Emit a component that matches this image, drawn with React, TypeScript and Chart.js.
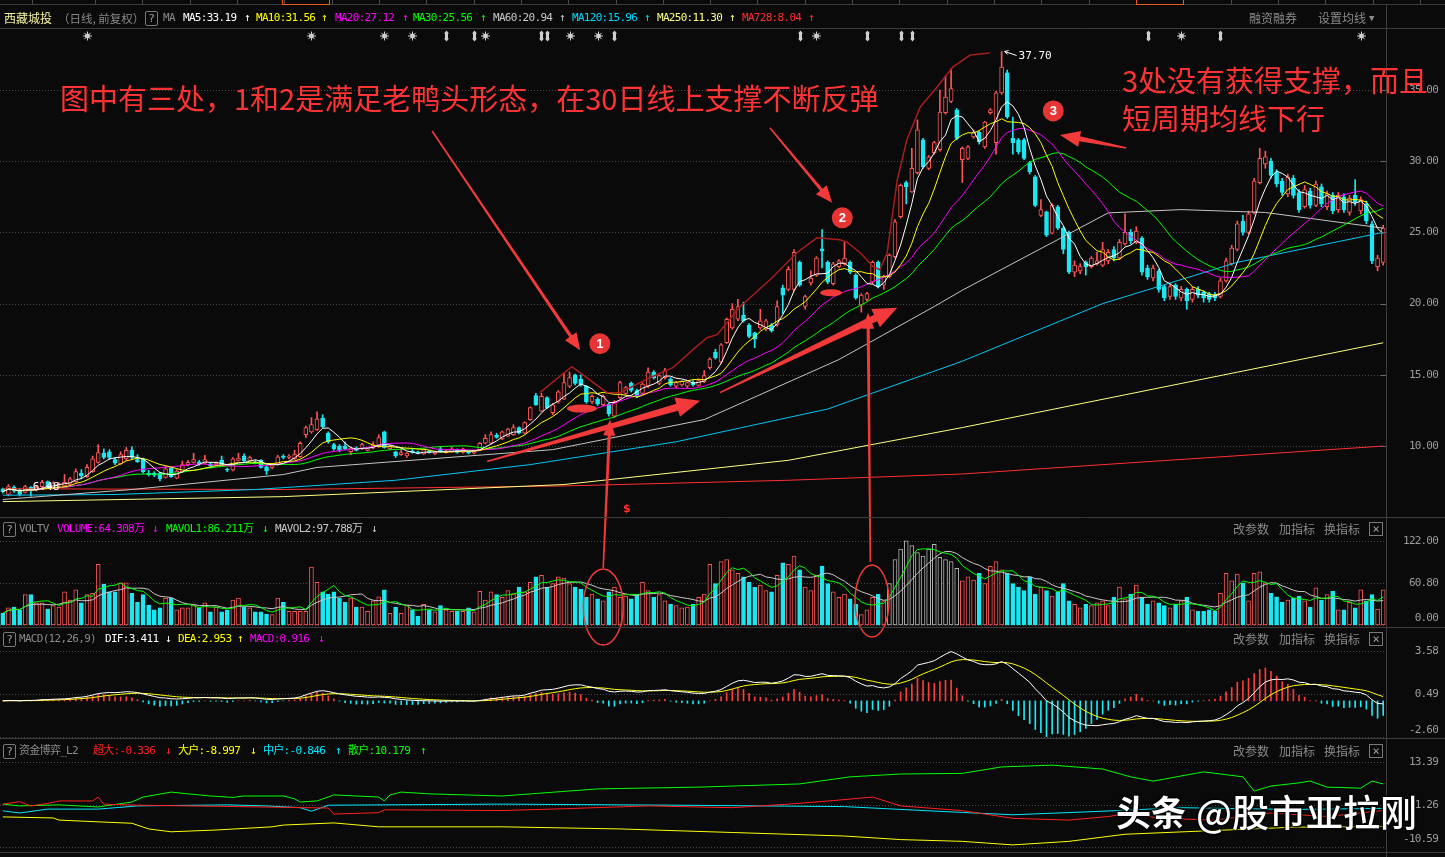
import React, { useEffect, useRef } from 'react';
import { Chart, registerables } from 'chart.js';

Chart.register(...registerables);

// ---------------- data ----------------
const opens = [
  7.00, 6.60, 7.10, 6.95, 6.75, 7.10, 6.90, 7.15, 7.50, 7.10,
  7.25, 7.20, 7.30, 7.50, 8.10, 7.85, 8.20, 8.85, 9.50, 9.60,
  9.05, 8.75, 9.10, 9.70, 9.05, 9.10, 8.10, 8.10, 8.10, 7.80,
  8.45, 7.75, 8.20, 8.70, 8.85, 8.90, 8.80, 8.75, 8.65, 9.00,
  8.35, 8.30, 9.00, 9.30, 9.00, 8.90, 9.00, 8.55, 8.50, 8.70,
  9.30, 9.20, 9.10, 9.25, 10.80, 11.00, 11.15, 11.95, 10.90, 10.10,
  10.00, 10.00, 9.60, 9.85, 9.80, 9.70, 9.85, 9.95, 11.00, 9.80,
  9.60, 9.40, 9.30, 9.65, 9.60, 9.45, 9.65, 9.45, 9.80, 9.55,
  9.60, 9.75, 9.55, 9.60, 9.50, 9.75, 10.20, 10.20, 10.75, 10.50,
  10.70, 10.80, 11.30, 10.90, 11.85, 13.55, 12.45, 13.40, 12.35, 13.10,
  13.30, 14.20, 15.00, 14.70, 14.20, 13.10, 13.30, 12.90, 12.95, 12.10,
  13.40, 13.70, 14.40, 13.90, 13.70, 14.20, 15.20, 14.40, 14.80, 14.70,
  14.20, 14.30, 14.20, 14.50, 14.25, 14.50, 15.50, 16.60, 15.90, 17.25,
  18.30, 18.90, 19.20, 18.50, 17.95, 18.30, 18.20, 18.50, 18.50, 21.10,
  21.00, 21.00, 22.90, 19.80, 21.45, 22.00, 23.85, 22.90, 21.40, 22.60,
  22.80, 22.90, 22.00, 19.90, 20.30, 21.50, 22.90, 21.30, 21.90, 23.30,
  26.10, 28.50, 27.85, 29.20, 31.50, 29.50, 30.60, 30.80, 33.40, 34.20,
  33.60, 30.10, 30.20, 31.70, 32.05, 31.00, 33.40, 31.30, 34.80, 36.20,
  31.60, 31.50, 31.50, 29.90, 28.90, 26.20, 26.45, 24.95, 26.80, 25.30,
  25.00, 22.20, 22.30, 22.90, 22.60, 22.80, 22.70, 23.00, 23.80, 23.20,
  24.20, 25.00, 24.30, 24.60, 22.50, 21.80, 22.30, 21.20, 20.50, 21.30,
  20.40, 21.00, 20.30, 21.00, 20.80, 20.70, 20.60, 20.50, 21.60, 22.80,
  23.80, 25.80, 25.00, 26.40, 28.50, 29.80, 30.00, 29.20, 28.60, 27.70,
  28.80, 27.80, 26.80, 27.90, 26.90, 28.20, 26.80, 27.60, 26.60, 27.50,
  26.40, 27.60, 26.50, 27.00, 25.60, 22.60, 22.90,
];
const closes = [
  6.80, 7.15, 6.85, 6.60, 7.15, 6.90, 7.10, 7.45, 7.15, 7.40,
  7.35, 7.45, 7.70, 8.20, 7.90, 8.50, 9.10, 9.55, 9.20, 9.20,
  8.80, 9.40, 9.70, 9.20, 8.90, 8.20, 8.00, 7.95, 7.70, 8.40,
  7.85, 8.25, 8.70, 8.85, 9.05, 8.75, 9.05, 8.60, 8.80, 8.70,
  8.30, 9.10, 9.15, 8.95, 9.20, 8.80, 8.50, 8.25, 8.70, 9.25,
  9.20, 9.30, 9.40, 10.20, 11.30, 11.50, 11.90, 11.35, 10.30, 9.80,
  9.75, 9.80, 9.85, 9.70, 10.10, 9.80, 10.10, 10.60, 9.90, 10.00,
  9.30, 9.55, 9.50, 9.55, 9.50, 9.75, 9.55, 9.60, 9.60, 9.65,
  9.80, 9.55, 9.80, 9.50, 9.65, 10.20, 10.55, 10.80, 10.60, 11.00,
  11.20, 11.30, 10.90, 11.65, 12.70, 12.90, 13.50, 12.70, 12.90, 13.80,
  14.45, 14.80, 14.40, 14.30, 13.10, 13.50, 12.95, 13.50, 12.25, 13.10,
  14.45, 14.10, 13.90, 13.50, 14.35, 15.20, 14.80, 14.95, 15.30, 14.30,
  14.45, 14.55, 14.45, 14.30, 14.60, 14.95, 16.10, 16.20, 17.10, 18.90,
  19.60, 19.80, 18.80, 17.70, 17.50, 18.80, 18.80, 18.10, 19.80, 20.60,
  22.40, 23.60, 21.30, 20.50, 21.80, 23.20, 23.70, 21.50, 22.80, 23.00,
  23.20, 22.20, 20.40, 20.60, 20.70, 22.90, 21.20, 21.90, 23.40, 25.75,
  28.30, 28.20, 29.50, 32.20, 29.60, 30.30, 31.30, 33.45, 34.50, 35.10,
  31.60, 30.90, 31.00, 32.05, 31.35, 32.75, 33.60, 34.80, 36.60, 33.10,
  31.30, 30.65, 30.20, 29.25, 26.90, 26.60, 24.80, 26.90, 25.30, 23.80,
  22.20, 22.70, 22.60, 22.60, 23.20, 23.00, 23.80, 23.60, 23.20, 24.30,
  25.00, 24.40, 25.10, 22.20, 21.90, 22.50, 21.00, 20.40, 21.20, 20.50,
  21.00, 20.20, 21.00, 20.60, 20.40, 20.30, 20.40, 21.60, 23.00, 23.90,
  25.60, 25.00, 26.30, 28.60, 30.20, 30.30, 29.00, 28.40, 27.80, 28.90,
  27.60, 26.60, 28.00, 26.90, 28.40, 27.00, 27.70, 26.50, 27.60, 26.60,
  27.40, 27.10, 27.30, 25.80, 23.00, 23.20, 25.30,
];
const highs = [
  7.05, 7.30, 7.20, 7.00, 7.25, 7.15, 7.20, 7.60, 7.55, 7.50,
  7.45, 8.00, 7.80, 8.40, 8.35, 8.70, 9.30, 10.10, 9.80, 9.75,
  9.20, 9.60, 9.90, 9.95, 9.40, 9.15, 8.30, 8.20, 8.15, 8.60,
  8.50, 8.35, 8.95, 9.00, 9.50, 9.00, 9.35, 8.85, 8.90, 9.30,
  8.45, 9.20, 9.50, 9.45, 9.30, 9.00, 9.05, 8.60, 8.75, 9.35,
  9.40, 9.40, 9.70, 10.30, 11.40, 12.00, 12.40, 12.20, 11.00, 10.20,
  10.10, 10.30, 9.95, 9.95, 10.20, 9.85, 10.30, 10.80, 11.05, 10.05,
  9.65, 9.90, 9.55, 9.80, 9.65, 9.80, 9.70, 9.65, 9.95, 9.70,
  9.95, 9.80, 9.85, 9.65, 9.70, 10.25, 10.80, 11.00, 10.90, 11.05,
  11.25, 11.50, 11.35, 11.70, 12.75, 13.70, 13.70, 13.45, 13.00, 13.90,
  15.10, 15.20, 15.05, 15.00, 14.25, 13.60, 13.40, 13.60, 13.00, 13.20,
  14.55, 14.20, 14.50, 14.00, 14.45, 15.50, 15.30, 15.00, 15.45, 14.80,
  14.55, 14.60, 14.50, 14.60, 14.70, 15.30, 16.20, 16.80, 17.20, 19.00,
  20.00, 20.30, 20.10, 18.60, 18.00, 19.60, 18.90, 18.60, 20.20, 21.30,
  22.60, 23.80, 23.00, 20.60, 22.30, 23.30, 25.20, 23.00, 22.90, 23.10,
  24.30, 23.00, 22.10, 20.70, 20.80, 23.00, 23.00, 22.00, 23.50, 25.90,
  28.40, 28.60, 30.90, 32.90, 31.60, 30.40, 31.40, 35.00, 36.00, 36.50,
  33.70, 31.00, 31.10, 32.20, 32.10, 32.80, 33.70, 34.90, 37.70, 36.40,
  33.10, 31.60, 31.60, 30.00, 29.00, 27.30, 26.50, 27.00, 26.90, 25.40,
  25.10, 23.00, 22.80, 23.00, 23.30, 23.60, 24.30, 23.80, 24.00, 24.50,
  26.30, 25.20, 25.40, 24.70, 22.70, 22.70, 22.40, 21.30, 21.40, 21.40,
  21.20, 21.10, 21.20, 21.20, 20.90, 20.80, 20.80, 21.80, 23.20, 24.10,
  25.80, 26.20, 26.50, 28.80, 30.90, 30.70, 30.20, 29.40, 28.80, 29.10,
  29.00, 28.00, 28.30, 28.10, 28.60, 28.40, 27.90, 27.80, 27.80, 27.70,
  27.60, 28.70, 27.50, 27.20, 25.80, 23.40, 25.50,
];
const lows = [
  6.70, 6.50, 6.75, 6.50, 6.70, 6.48, 6.85, 7.05, 7.05, 7.05,
  7.15, 7.15, 7.25, 7.45, 7.70, 7.80, 8.15, 8.80, 9.10, 9.05,
  8.70, 8.70, 9.00, 9.10, 8.85, 8.10, 7.90, 7.85, 7.55, 7.75,
  7.80, 7.70, 8.15, 8.60, 8.80, 8.65, 8.75, 8.50, 8.60, 8.65,
  8.20, 8.25, 8.95, 8.90, 8.95, 8.75, 8.45, 8.00, 8.40, 8.65,
  9.10, 9.10, 9.05, 9.20, 10.60, 10.90, 11.10, 11.30, 10.20, 9.70,
  9.60, 9.75, 9.40, 9.65, 9.75, 9.65, 9.80, 9.90, 9.85, 9.75,
  9.20, 9.35, 9.20, 9.50, 9.45, 9.40, 9.50, 9.40, 9.55, 9.50,
  9.55, 9.50, 9.50, 9.45, 9.45, 9.70, 10.15, 10.15, 10.55, 10.45,
  10.65, 10.75, 10.85, 10.85, 11.80, 12.85, 12.40, 12.60, 12.20, 13.00,
  13.25, 14.10, 14.30, 14.20, 13.00, 13.00, 12.85, 12.80, 12.10, 12.00,
  13.35, 13.60, 13.80, 13.40, 13.60, 14.10, 14.70, 14.30, 14.70, 14.20,
  14.10, 14.20, 14.10, 14.20, 14.20, 14.45, 15.40, 16.10, 15.80, 17.20,
  18.20, 18.80, 18.70, 17.60, 16.90, 18.20, 18.10, 18.00, 18.40, 19.30,
  20.90, 20.90, 21.20, 19.60, 21.30, 21.90, 22.50, 21.40, 21.30, 22.50,
  22.70, 22.10, 20.30, 19.40, 20.20, 21.40, 21.10, 21.00, 21.80, 23.20,
  26.00, 27.00, 27.80, 29.10, 29.50, 29.40, 30.50, 30.70, 33.30, 34.10,
  31.50, 28.50, 30.10, 31.60, 31.20, 30.90, 33.30, 30.50, 34.70, 33.00,
  30.50, 30.50, 30.10, 29.10, 26.80, 26.10, 24.70, 24.90, 25.20, 23.50,
  22.10, 21.90, 22.10, 22.00, 22.50, 22.70, 22.60, 22.80, 23.00, 23.10,
  24.10, 24.20, 24.20, 22.00, 21.70, 21.60, 20.80, 20.20, 20.30, 20.30,
  20.20, 19.60, 20.10, 20.40, 20.10, 20.10, 20.20, 20.40, 21.50, 22.70,
  23.70, 24.80, 24.90, 26.30, 28.40, 29.50, 28.80, 28.20, 27.60, 27.50,
  27.40, 26.40, 26.70, 26.70, 26.80, 26.80, 26.60, 26.30, 26.40, 26.40,
  26.20, 26.90, 26.30, 25.60, 22.80, 22.30, 22.70,
];
const volumes = [
  17, 25, 26, 22, 44, 44, 32, 32, 23, 28,
  26, 48, 36, 51, 32, 44, 46, 88, 59, 48,
  48, 61, 61, 46, 33, 44, 29, 22, 25, 39,
  39, 22, 25, 25, 29, 25, 32, 19, 26, 19,
  22, 36, 39, 26, 25, 19, 19, 16, 15, 39,
  33, 20, 20, 20, 20, 84, 62, 48, 45, 48,
  39, 33, 39, 26, 26, 20, 35, 41, 51, 17,
  26, 17, 29, 22, 13, 30, 22, 19, 28, 22,
  20, 20, 20, 25, 19, 49, 36, 48, 44, 40,
  50, 45, 55, 48, 62, 70, 72, 55, 60, 70,
  68, 60, 55, 52, 40, 45, 38, 35, 48, 55,
  40, 42, 38, 45, 62, 50, 40, 44, 35, 30,
  28, 25, 26, 30, 40, 45, 88, 60, 92, 95,
  80, 75, 70, 62, 55, 58, 50, 48, 72, 90,
  88, 100, 80, 55, 50, 72, 85, 60, 48, 40,
  45, 38, 30, 15, 22, 40, 45, 35, 60, 95,
  110, 122, 115, 105, 100, 110, 117, 98, 95, 92,
  82, 64, 70, 65, 75, 60, 85, 92, 80, 75,
  60, 55, 50, 70, 45, 55, 50, 42, 48, 60,
  35, 30, 25, 30, 28, 32, 35, 28, 40, 55,
  38, 45, 58, 40, 30, 35, 32, 28, 25, 30,
  35, 40, 22, 20, 20, 22, 20, 46, 75, 64,
  74, 61, 35, 75, 77, 61, 46, 41, 33, 36,
  39, 42, 35, 26, 54, 36, 44, 49, 22, 22,
  33, 25, 51, 35, 44, 23, 51,
];
const grayVolumeRange = [158, 170];

// long moving averages (need history before the window) read as key points
const ma60Points = [[0, 6.25], [23, 6.95], [50, 8.0], [56, 8.5], [98, 9.75], [125, 11.86], [149, 16.07], [166, 19.8], [171, 20.94], [197, 26.37], [210, 26.6], [225, 26.4], [246, 25.3]];
const ma120Points = [[0, 6.55], [20, 6.6], [45, 6.95], [70, 7.6], [94, 8.7], [120, 10.3], [147, 12.6], [171, 15.96], [196, 20.0], [220, 22.9], [246, 25.0]];
const ma250Points = [[0, 6.1], [50, 6.45], [100, 7.3], [140, 9.0], [171, 11.3], [200, 13.6], [246, 17.25]];
const ma728Points = [[0, 7.0], [50, 6.95], [100, 7.2], [140, 7.6], [171, 8.04], [200, 8.8], [246, 10.0]];

// 资金博弈 lines, key points
const fundSuperPoints = [[0, 1.5], [3, 2.2], [5, 1.0], [8, 1.7], [10, 2.4], [16, 2.4], [17, 3.5], [18, 1.5], [24, 1.2], [42, 0.8], [58, 0.4], [59, -1.3], [67, -0.9], [68, -0.1], [89, -0.3], [100, 0.2], [115, 1.0], [130, 0.5], [140, 1.5], [148, 2.5], [155, 3.5], [160, 1.0], [171, -0.34], [180, -2.5], [190, -3.0], [197, -2.0], [201, -1.0], [206, -2.5], [216, -3.0], [226, -1.0], [236, -2.0], [246, -0.3]];
const fundBigPoints = [[0, -2.1], [9, -2.4], [10, -3.0], [17, -3.5], [23, -3.9], [26, -5.5], [30, -6.3], [38, -5.8], [48, -4.9], [50, -4.4], [59, -3.8], [67, -4.9], [89, -4.9], [110, -5.5], [130, -6.5], [150, -7.5], [160, -8.5], [171, -9.0], [180, -10.0], [190, -9.0], [200, -7.0], [215, -6.0], [230, -5.0], [246, -4.8]];
const fundMidPoints = [[0, -0.4], [3, -1.0], [8, 0.1], [17, 0.1], [24, 1.0], [40, 1.3], [47, 1.0], [53, 0.5], [55, -0.5], [58, 1.2], [89, 1.5], [120, 1.2], [150, 0.8], [171, -0.85], [180, -1.5], [196, -0.5], [210, 0.5], [230, 0.0], [246, 0.3]];
const fundRetailPoints = [[0, 1.5], [3, 1.0], [10, 1.3], [17, 0.7], [23, 2.1], [25, 3.5], [30, 4.9], [33, 4.4], [37, 3.8], [41, 3.4], [43, 3.8], [50, 3.8], [52, 3.0], [53, 2.1], [56, 2.4], [59, 4.1], [67, 3.5], [68, 2.4], [69, 4.1], [71, 4.9], [76, 4.4], [89, 3.8], [106, 5.8], [124, 6.3], [142, 7.2], [151, 9.2], [160, 10.0], [171, 10.18], [178, 12.0], [187, 12.5], [196, 11.4], [201, 9.2], [205, 8.0], [214, 10.6], [221, 9.2], [223, 5.2], [226, 6.6], [231, 7.5], [233, 8.0], [236, 6.3], [242, 6.0], [244, 8.0], [246, 7.2]];

const priceTicks = [35, 30, 25, 20, 15, 10];
const volumeTicks = [122, 60.8, 0];
const macdTicks = [3.58, 0.49, -2.6];
const fundTicks = [13.39, 1.26, -10.59];

// event markers in the top strip (candle index, kind)
const markerIdx = [15, 55, 68, 73, 79, 84, 86, 96, 97, 101, 106, 109, 142, 145, 154, 160, 162, 204, 210, 217, 242];
const markerKind = ['s', 's', 's', 's', 'd', 'd', 's', 'd', 'd', 's', 's', 'd', 'd', 's', 'd', 'd', 'd', 'd', 's', 'd', 's'];

// hand-drawn annotations (in data coordinates)
const envelopeIdx = [95.7, 101.4, 107.7, 110.0, 115.3, 119.4, 123.0, 125.5, 127.3, 131.4, 137.3, 141.5, 145.1, 149.2, 150.4, 152.8, 155.1, 156.3, 157.6, 159.4, 161.1, 163.5, 166.5, 169.3, 172.4, 175.9];
const envelopeVal = [13.75, 15.58, 13.75, 13.75, 14.8, 15.5, 16.77, 17.61, 17.82, 19.78, 21.89, 23.57, 24.62, 24.48, 24.34, 23.57, 22.59, 22.38, 23.57, 28.69, 31.49, 33.81, 35.21, 36.61, 37.45, 37.59];

// ---------------- styling ----------------
const W = 1445;
const H = 857;
const BG = '#0a0a0a';
const RED = '#ff5555';
const CYAN = '#1ae8f2';
const GRAYBAR = '#b4b4b4';
const ANNO = '#f23a3a';
const mono = "'DejaVu Sans Mono', 'Noto Sans CJK SC', monospace";
const cjk = "'Noto Sans CJK SC', sans-serif";

function sma(src: number[], n: number) {
  return src.map((_, i) => {
    const s = Math.max(0, i - n + 1);
    let t = 0;
    for (let k = s; k <= i; k++) t += src[k];
    return t / (i - s + 1);
  });
}
function ema(src: number[], n: number) {
  const a = 2 / (n + 1);
  const out: number[] = [];
  let prev = src[0];
  src.forEach((v, i) => {
    prev = i === 0 ? v : a * v + (1 - a) * prev;
    out.push(prev);
  });
  return out;
}
function sparse(n: number, pts: number[][]) {
  const arr: (number | null)[] = new Array(n).fill(null);
  pts.forEach(([i, v]) => { arr[i] = v; });
  return arr;
}

function drawArrow(ctx: any, x1: number, y1: number, x2: number, y2: number, t0: number, t1: number, head: number, hw: number) {
  const a = Math.atan2(y2 - y1, x2 - x1);
  const c = Math.cos(a), s = Math.sin(a);
  const bx = x2 - c * head, by = y2 - s * head;
  ctx.fillStyle = ANNO;
  ctx.beginPath();
  ctx.moveTo(x1 - s * t0, y1 + c * t0);
  ctx.lineTo(bx - s * t1, by + c * t1);
  ctx.lineTo(bx - s * hw, by + c * hw);
  ctx.lineTo(x2, y2);
  ctx.lineTo(bx + s * hw, by - c * hw);
  ctx.lineTo(bx + s * t1, by - c * t1);
  ctx.lineTo(x1 + s * t0, y1 - c * t0);
  ctx.closePath();
  ctx.fill();
}

const overlay = {
  id: 'overlay',
  beforeDatasetsDraw(chart: any) {
    const { ctx, chartArea: ca, scales } = chart;
    ctx.save();
    ctx.strokeStyle = '#4a4a4a';
    ctx.lineWidth = 1;
    ctx.setLineDash([1, 2]);
    const grid = (id: string, vals: number[]) => vals.forEach((v) => {
      const y = Math.round(scales[id].getPixelForValue(v)) + 0.5;
      ctx.beginPath(); ctx.moveTo(ca.left, y); ctx.lineTo(ca.right, y); ctx.stroke();
    });
    grid('yP', priceTicks); grid('yV', volumeTicks); grid('yM', macdTicks); grid('yF', fundTicks);
    ctx.setLineDash([]);
    ctx.restore();
  },
  afterDatasetsDraw(chart: any) {
    const { ctx, chartArea: ca, scales } = chart;
    const X = (i: number) => scales.x.getPixelForValue(i);
    const Y = (id: string, v: number) => scales[id].getPixelForValue(v);
    ctx.save();

    // hand-drawn upper envelope
    ctx.strokeStyle = '#a81d1d';
    ctx.lineWidth = 1.5;
    ctx.beginPath();
    envelopeIdx.forEach((i, k) => {
      const x = X(i), y = Y('yP', envelopeVal[k]);
      if (k === 0) ctx.moveTo(x, y); else ctx.lineTo(x, y);
    });
    ctx.stroke();

    // arrows
    drawArrow(ctx, X(76.5), Y('yP', 32.12), X(102.9), Y('yP', 16.72), 0.8, 1.6, 17, 7);
    drawArrow(ctx, X(136.7), Y('yP', 32.34), X(147.8), Y('yP', 27.08), 0.8, 1.6, 17, 7);
    drawArrow(ctx, X(200.2), Y('yP', 30.93), X(188.4), Y('yP', 31.84), 0.8, 2.5, 20, 8);
    drawArrow(ctx, X(86.3), Y('yP', 8.91), X(124.3), Y('yP', 13.19), 0.8, 3.6, 24, 10);
    drawArrow(ctx, X(127.8), Y('yP', 13.75), X(159.4), Y('yP', 19.71), 0.8, 3.6, 24, 10);
    drawArrow(ctx, X(107.0), Y('yV', 82.7), X(108.2), Y('yP', 11.86), 0.8, 1.6, 16, 6);
    drawArrow(ctx, X(154.6), Y('yV', 91.4), X(154.2), Y('yP', 19.36), 0.8, 1.6, 16, 6);

    // filled ellipses marking the "duck head" dips
    ctx.fillStyle = ANNO;
    ctx.beginPath(); ctx.ellipse(X(103.2), Y('yP', 12.63), 15, 4, 0, 0, Math.PI * 2); ctx.fill();
    ctx.beginPath(); ctx.ellipse(X(147.6), Y('yP', 20.76), 11, 3.5, 0, 0, Math.PI * 2); ctx.fill();

    // outline ellipses on the volume panel
    ctx.strokeStyle = ANNO;
    ctx.lineWidth = 1.5;
    ctx.beginPath(); ctx.ellipse(X(107.0), Y('yV', 26.1), 20, 38, 0, 0, Math.PI * 2); ctx.stroke();
    ctx.beginPath(); ctx.ellipse(X(154.9), Y('yV', 34.8), 17, 36, 0, 0, Math.PI * 2); ctx.stroke();

    // numbered circles
    const circ = (i: number, v: number, t: string) => {
      const x = X(i), y = Y('yP', v);
      ctx.fillStyle = '#e53535';
      ctx.beginPath(); ctx.arc(x, y, 10.5, 0, Math.PI * 2); ctx.fill();
      ctx.fillStyle = '#ffffff';
      ctx.font = "bold 13px 'Liberation Sans', Arial, sans-serif";
      ctx.textAlign = 'center'; ctx.textBaseline = 'middle';
      ctx.fillText(t, x, y + 0.5);
    };
    circ(106.4, 17.19, '1'); circ(149.6, 26.02, '2'); circ(187.2, 33.53, '3');

    // top event markers
    const my = ca.top + 8;
    ctx.fillStyle = '#cfcfcf'; ctx.strokeStyle = '#cfcfcf'; ctx.lineWidth = 1;
    markerIdx.forEach((i, k) => {
      const x = Math.round(X(i)) + 0.5;
      if (markerKind[k] === 's') {
        for (let q = 0; q < 4; q++) {
          const a = (q * Math.PI) / 4;
          ctx.beginPath();
          ctx.moveTo(x - Math.cos(a) * 4.5, my - Math.sin(a) * 4.5);
          ctx.lineTo(x + Math.cos(a) * 4.5, my + Math.sin(a) * 4.5);
          ctx.stroke();
        }
        ctx.beginPath(); ctx.arc(x, my, 2.4, 0, Math.PI * 2); ctx.fill();
      } else {
        ctx.beginPath();
        ctx.moveTo(x, my - 5.5); ctx.lineTo(x + 2.5, my - 2.5); ctx.lineTo(x + 1.5, my - 2.5);
        ctx.lineTo(x + 1.5, my + 2.5); ctx.lineTo(x + 2.5, my + 2.5); ctx.lineTo(x, my + 5.5);
        ctx.lineTo(x - 2.5, my + 2.5); ctx.lineTo(x - 1.5, my + 2.5); ctx.lineTo(x - 1.5, my - 2.5);
        ctx.lineTo(x - 2.5, my - 2.5); ctx.closePath(); ctx.fill();
      }
    });

    // low / high labels
    ctx.font = "11px 'DejaVu Sans Mono', monospace";
    ctx.textBaseline = 'middle';
    ctx.textAlign = 'left';
    ctx.fillStyle = '#ffffff';
    let lowI = 0, highI = 0;
    lows.forEach((v, i) => { if (v < lows[lowI]) lowI = i; });
    highs.forEach((v, i) => { if (v > highs[highI]) highI = i; });
    ctx.fillText(lows[lowI].toFixed(2), X(lowI) + 2, Y('yP', lows[lowI]) - 9);
    const hx = X(highI), hy = Y('yP', highs[highI]);
    ctx.strokeStyle = '#ffffff';
    ctx.beginPath(); ctx.moveTo(hx + 3, hy); ctx.lineTo(hx + 15, hy + 4); ctx.stroke();
    ctx.beginPath(); ctx.moveTo(hx + 3, hy); ctx.lineTo(hx + 7, hy - 1); ctx.moveTo(hx + 3, hy); ctx.lineTo(hx + 6, hy + 3); ctx.stroke();
    ctx.fillText(highs[highI].toFixed(2), hx + 17, hy + 5);

    // "$" marker
    ctx.fillStyle = '#ff3030';
    ctx.font = "bold 11px 'DejaVu Sans', sans-serif";
    ctx.textAlign = 'center';
    ctx.fillText('$', X(111.2), Y('yP', 5.55));
    ctx.restore();
  },
  afterDraw(chart: any) {
    const { ctx, chartArea: ca, scales } = chart;
    ctx.save();
    // separators
    ctx.strokeStyle = '#3c3c3c';
    ctx.lineWidth = 1;
    const hl = (y: number) => { ctx.beginPath(); ctx.moveTo(0, y); ctx.lineTo(W, y); ctx.stroke(); };
    hl(Math.round(ca.top) + 0.5);
    hl(Math.round(scales.yP.bottom) + 0.5);
    hl(Math.round(scales.yV.bottom) + 0.5);
    hl(Math.round(scales.yM.bottom) + 0.5);
    hl(Math.round(scales.yF.bottom) + 2.5);
    ctx.beginPath(); ctx.moveTo(Math.round(ca.right) + 0.5, 5); ctx.lineTo(Math.round(ca.right) + 0.5, H); ctx.stroke();

    // right axis labels
    ctx.fillStyle = '#9c9c9c';
    ctx.font = "11px 'DejaVu Sans Mono', monospace";
    try { ctx.letterSpacing = '-0.8px'; } catch (e) { /* ignore */ }
    ctx.textAlign = 'right';
    ctx.textBaseline = 'middle';
    const lab = (id: string, vals: number[], shift: number) => vals.forEach((v, k) => {
      let y = scales[id].getPixelForValue(v);
      if (k === vals.length - 1) y -= shift;
      ctx.fillText(v.toFixed(2), 1438, y);
    });
    lab('yP', priceTicks, 0); lab('yV', volumeTicks, 7); lab('yM', macdTicks, 7); lab('yF', fundTicks, 8);
    ctx.strokeStyle = '#6a6a6a';
    priceTicks.forEach((v) => {
      const y = Math.round(scales.yP.getPixelForValue(v)) + 0.5;
      ctx.beginPath(); ctx.moveTo(ca.right - 5, y); ctx.lineTo(ca.right, y); ctx.stroke();
    });
    ctx.restore();
  },
};

function T(props: any) {
  const { x, y, c, s = 11, f = mono, ls = -0.7, w = 400, children } = props;
  return (
    <div style={{ position: 'absolute', left: x, top: y - 8, height: 16, lineHeight: '16px', fontSize: s, fontFamily: f, color: c, letterSpacing: ls, fontWeight: w, whiteSpace: 'nowrap' }}>
      {children}
    </div>
  );
}
function QBox(props: any) {
  const { x, y } = props;
  return (
    <div style={{ position: 'absolute', left: x, top: y - 7, width: 11, height: 13, border: '1px solid #7a7a7a', borderRadius: 2, color: '#a0a0a0', fontSize: 11, lineHeight: '13px', textAlign: 'center', fontFamily: mono }}>?</div>
  );
}
function XBox(props: any) {
  const { x, y } = props;
  return (
    <div style={{ position: 'absolute', left: x, top: y - 7, width: 12, height: 12, border: '1px solid #7a7a7a', color: '#a0a0a0', fontSize: 12, lineHeight: '12px', textAlign: 'center', fontFamily: mono }}>×</div>
  );
}

const titleItems = [
  { x: 183, t: 'MA5:33.19', c: '#ffffff' }, { x: 244, t: '↑', c: '#ffffff' },
  { x: 256, t: 'MA10:31.56', c: '#ffff00' }, { x: 321, t: '↑', c: '#ffff00' },
  { x: 335, t: 'MA20:27.12', c: '#ff00ff' }, { x: 402, t: '↑', c: '#ff00ff' },
  { x: 413, t: 'MA30:25.56', c: '#00ff00' }, { x: 480, t: '↑', c: '#00ff00' },
  { x: 493, t: 'MA60:20.94', c: '#c8c8c8' }, { x: 559, t: '↑', c: '#c8c8c8' },
  { x: 572, t: 'MA120:15.96', c: '#00d8ff' }, { x: 644, t: '↑', c: '#00d8ff' },
  { x: 657, t: 'MA250:11.30', c: '#ffff80' }, { x: 729, t: '↑', c: '#ffff80' },
  { x: 742, t: 'MA728:8.04', c: '#ff3030' }, { x: 808, t: '↑', c: '#ff3030' },
];
const volItems = [
  { x: 19, t: 'VOLTV', c: '#8a8a8a' },
  { x: 57, t: 'VOLUME:64.308万', c: '#ff00ff' }, { x: 152, t: '↓', c: '#ff00ff' },
  { x: 166, t: 'MAVOL1:86.211万', c: '#00ff00' }, { x: 262, t: '↓', c: '#00ff00' },
  { x: 275, t: 'MAVOL2:97.788万', c: '#c8c8c8' }, { x: 371, t: '↓', c: '#c8c8c8' },
];
const macdItems = [
  { x: 19, t: 'MACD(12,26,9)', c: '#8a8a8a' },
  { x: 105, t: 'DIF:3.411', c: '#ffffff' }, { x: 165, t: '↓', c: '#ffffff' },
  { x: 178, t: 'DEA:2.953', c: '#ffff00' }, { x: 237, t: '↑', c: '#ffff00' },
  { x: 250, t: 'MACD:0.916', c: '#ff00ff' }, { x: 318, t: '↓', c: '#ff00ff' },
];
const fundItems = [
  { x: 19, t: '资金博弈_L2', c: '#8a8a8a' },
  { x: 93, t: '超大:-0.336', c: '#ff2020' }, { x: 165, t: '↓', c: '#ff2020' },
  { x: 178, t: '大户:-8.997', c: '#ffff00' }, { x: 250, t: '↓', c: '#ffff00' },
  { x: 263, t: '中户:-0.846', c: '#00e8ff' }, { x: 335, t: '↑', c: '#00e8ff' },
  { x: 348, t: '散户:10.179', c: '#00ff00' }, { x: 420, t: '↑', c: '#00ff00' },
];

export default function App() {
  const ref = useRef<HTMLCanvasElement>(null);

  useEffect(() => {
    const N = closes.length;
    const labels = closes.map((_, i) => i);
    const up = closes.map((c, i) => c >= opens[i]);
    const isGray = (i: number) => i >= grayVolumeRange[0] && i <= grayVolumeRange[1];

    const ma5 = sma(closes, 5), ma10 = sma(closes, 10), ma20 = sma(closes, 20), ma30 = sma(closes, 30);
    const mavol1 = sma(volumes, 5), mavol2 = sma(volumes, 10);
    const e12 = ema(closes, 12), e26 = ema(closes, 26);
    const dif = e12.map((v, i) => v - e26[i]);
    const dea = ema(dif, 9);
    const hist = dif.map((v, i) => 2 * (v - dea[i]));

    const line = (label: string, data: any[], color: string, axis: string, span = false) => ({
      type: 'line', label, data, yAxisID: axis, borderColor: color, borderWidth: 1, pointRadius: 0,
      tension: 0, spanGaps: span, order: 0,
    });

    const datasets: any[] = [
      line('MA5', ma5, '#ffffff', 'yP'),
      line('MA10', ma10, '#ffff00', 'yP'),
      line('MA20', ma20, '#ff00ff', 'yP'),
      line('MA30', ma30, '#00ff00', 'yP'),
      line('MA60', sparse(N, ma60Points), '#c4c4c4', 'yP', true),
      line('MA120', sparse(N, ma120Points), '#00c8f5', 'yP', true),
      line('MA250', sparse(N, ma250Points), '#ffff80', 'yP', true),
      line('MA728', sparse(N, ma728Points), '#ff3030', 'yP', true),
      {
        type: 'bar', label: 'body', data: opens.map((o, i) => [o, closes[i]]), yAxisID: 'yP',
        backgroundColor: up.map((u) => (u ? BG : CYAN)), borderColor: up.map((u) => (u ? RED : CYAN)),
        borderWidth: 1, borderSkipped: false, barThickness: 4, grouped: false, minBarLength: 1, order: 1,
      },
      {
        type: 'bar', label: 'wick', data: lows.map((l, i) => [l, highs[i]]), yAxisID: 'yP',
        backgroundColor: up.map((u) => (u ? RED : CYAN)), borderWidth: 0, barThickness: 1, grouped: false, order: 2,
      },
      {
        type: 'bar', label: 'volume', data: volumes, yAxisID: 'yV',
        backgroundColor: volumes.map((_, i) => (isGray(i) ? BG : up[i] ? BG : CYAN)),
        borderColor: volumes.map((_, i) => (isGray(i) ? GRAYBAR : up[i] ? RED : CYAN)),
        borderWidth: 1, borderSkipped: false, barThickness: 4, grouped: false, order: 1,
      },
      line('MAVOL1', mavol1, '#00ff00', 'yV'),
      line('MAVOL2', mavol2, '#c8c8c8', 'yV'),
      {
        type: 'bar', label: 'MACD', data: hist, yAxisID: 'yM',
        backgroundColor: hist.map((v) => (v >= 0 ? '#ff3b3b' : CYAN)), borderWidth: 0, barThickness: 1, grouped: false, order: 1,
      },
      line('DIF', dif, '#ffffff', 'yM'),
      line('DEA', dea, '#ffff00', 'yM'),
      line('超大', sparse(N, fundSuperPoints), '#ff2020', 'yF', true),
      line('大户', sparse(N, fundBigPoints), '#ffff00', 'yF', true),
      line('中户', sparse(N, fundMidPoints), '#00e8ff', 'yF', true),
      line('散户', sparse(N, fundRetailPoints), '#00ff00', 'yF', true),
    ];

    const hiddenAxis = (min: number, max: number, weight: number) => ({
      type: 'linear', position: 'right', stack: 'panels', stackWeight: weight, min, max, display: true,
      ticks: { display: false }, grid: { display: false, drawTicks: false }, border: { display: false },
    });

    const chart = new Chart(ref.current as HTMLCanvasElement, {
      type: 'bar',
      data: { labels, datasets },
      options: {
        responsive: false,
        animation: false,
        devicePixelRatio: 1,
        events: [],
        layout: { padding: { left: 0, right: 59, top: 28, bottom: 7 } },
        plugins: { legend: { display: false }, tooltip: { enabled: false } },
        scales: {
          x: { type: 'category', offset: true, display: false, grid: { display: false } },
          yP: hiddenAxis(5.02, 39.35, 489),
          yV: hiddenAxis(-2.9, 156.6, 110),
          yM: hiddenAxis(-2.67, 5.31, 111),
          yF: hiddenAxis(-11.44, 20.16, 112),
        },
      } as any,
      plugins: [overlay as any],
    } as any);
    return () => chart.destroy();
  }, []);

  const tabLines: number[] = [32];
  for (let k = 0; k <= 28; k++) tabLines.push(95 + k * 47.32);

  return (
    <div style={{ position: 'fixed', left: 0, top: 0, width: W, height: H, background: BG, overflow: 'hidden' }}>
      <canvas ref={ref} width={W} height={H} style={{ position: 'absolute', left: 0, top: 0, width: W, height: H }} />

      {/* top tab strip */}
      <div style={{ position: 'absolute', left: 0, top: 4, width: W, height: 1, background: '#3a3a3a' }} />
      {tabLines.map((x, k) => (
        <div key={'tl' + k} style={{ position: 'absolute', left: Math.round(x), top: 0, width: 1, height: 5, background: '#4a4a4a' }} />
      ))}
      <div style={{ position: 'absolute', left: 282, top: -1, width: 46, height: 4, border: '1px solid #e8600e' }} />
      <div style={{ position: 'absolute', left: 1136, top: -1, width: 46, height: 4, border: '1px solid #e8600e' }} />

      {/* title row */}
      <T x={4} y={18} c="#f5f5a0" s={12} f={cjk} ls={0}>西藏城投</T>
      <T x={58} y={18} c="#8a8a8a" s={11.5} f={cjk} ls={0}>（日线, 前复权）</T>
      <QBox x={145} y={18} />
      <T x={163} y={18} c="#8a8a8a">MA</T>
      {titleItems.map((it, k) => <T key={'ti' + k} x={it.x} y={18} c={it.c}>{it.t}</T>)}
      <T x={1249} y={18} c="#8a8a8a" s={12} f={cjk} ls={0}>融资融券</T>
      <T x={1318} y={18} c="#8a8a8a" s={12} f={cjk} ls={0}>设置均线</T>
      <T x={1369} y={18} c="#8a8a8a" s={9} ls={0}>▼</T>

      {/* volume header */}
      <QBox x={3} y={529} />
      {volItems.map((it, k) => <T key={'vi' + k} x={it.x} y={529} c={it.c}>{it.t}</T>)}
      {/* macd header */}
      <QBox x={3} y={639} />
      {macdItems.map((it, k) => <T key={'mi' + k} x={it.x} y={639} c={it.c}>{it.t}</T>)}
      {/* fund header */}
      <QBox x={3} y={751} />
      {fundItems.map((it, k) => <T key={'fi' + k} x={it.x} y={751} c={it.c}>{it.t}</T>)}

      {[529, 639, 751].map((y) => (
        <React.Fragment key={'rh' + y}>
          <T x={1233} y={y} c="#8a8a8a" s={12} f={cjk} ls={0}>改参数</T>
          <T x={1279} y={y} c="#8a8a8a" s={12} f={cjk} ls={0}>加指标</T>
          <T x={1324} y={y} c="#8a8a8a" s={12} f={cjk} ls={0}>换指标</T>
          <XBox x={1369} y={y} />
        </React.Fragment>
      ))}

      {/* annotation texts */}
      <div style={{ position: 'absolute', left: 60, top: 82, fontSize: 29, lineHeight: '30px', fontFamily: cjk, color: '#ff3333', whiteSpace: 'nowrap' }}>
        图中有三处，1和2是满足老鸭头形态，在30日线上支撑不断反弹
      </div>
      <div style={{ position: 'absolute', left: 1122, top: 64, fontSize: 29, lineHeight: '30px', fontFamily: cjk, color: '#ff3333', whiteSpace: 'nowrap' }}>
        3处没有获得支撑，而且
      </div>
      <div style={{ position: 'absolute', left: 1122, top: 102, fontSize: 29, lineHeight: '30px', fontFamily: cjk, color: '#ff3333', whiteSpace: 'nowrap' }}>
        短周期均线下行
      </div>

      {/* watermark */}
      <div style={{ position: 'absolute', left: 1116, top: 792, fontSize: 35, lineHeight: '38px', fontFamily: cjk, fontWeight: 700, color: '#ffffff', whiteSpace: 'nowrap', textShadow: '0 0 3px #000, 1px 1px 2px #000, -1px -1px 2px #000' }}>
        头条
      </div>
      <div style={{ position: 'absolute', left: 1196, top: 791, fontSize: 37, lineHeight: '40px', fontFamily: cjk, fontWeight: 500, color: '#ffffff', whiteSpace: 'nowrap', textShadow: '0 0 3px #000, 1px 1px 2px #000, -1px -1px 2px #000' }}>
        @股市亚拉刚
      </div>
    </div>
  );
}
